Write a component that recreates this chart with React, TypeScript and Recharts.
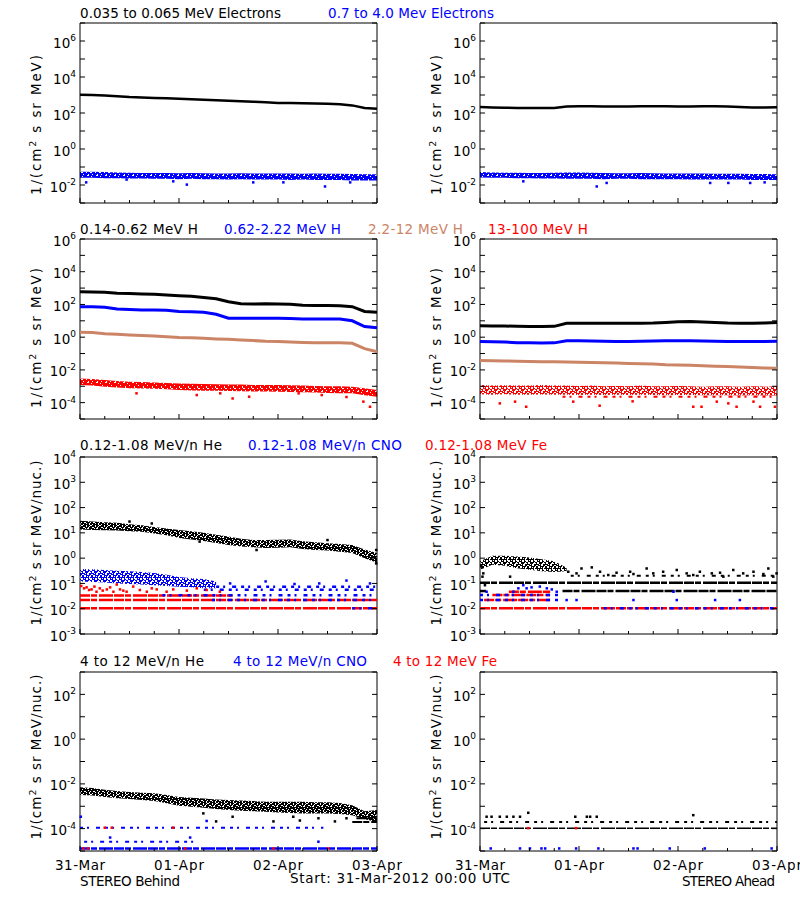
import React from 'react';
import { ComposedChart, Line, Area, Scatter, XAxis, YAxis, ReferenceArea } from 'recharts';

const FONT = '"DejaVu Sans", "Liberation Sans", sans-serif';
const BLACK = '#000000';
const BLUE = '#0000ff';
const SIENNA = '#cc8466';
const RED = '#ff0000';

// hours since Start: 31-Mar-2012 00:00 UTC
const hours = [0, 3, 6, 9, 12, 15, 18, 21, 24, 27, 30, 33, 36, 39, 42, 45, 48, 51, 54, 57, 60, 63, 66, 69, 72];
const xTicks = [0, 6, 12, 18, 24, 30, 36, 42, 48, 54, 60, 66, 72];
const dayTicks = [0, 24, 48, 72];
const dayLabels = ['31-Mar', '01-Apr', '02-Apr', '03-Apr'];

const yTicksE = [1e-3, 1e-2, 1e-1, 1, 1e1, 1e2, 1e3, 1e4, 1e5, 1e6, 1e7];
const yLabelsE = [-2, 0, 2, 4, 6];
const yTicksH = [1e-5, 1e-4, 1e-3, 1e-2, 1e-1, 1, 1e1, 1e2, 1e3, 1e4, 1e5, 1e6];
const yLabelsH = [-4, -2, 0, 2, 4, 6];
const yTicksLo = [1e-3, 1e-2, 1e-1, 1, 1e1, 1e2, 1e3, 1e4];
const yLabelsLo = [-3, -2, -1, 0, 1, 2, 3, 4];
const yTicksHi = [1e-5, 1e-4, 1e-3, 1e-2, 1e-1, 1, 1e1, 1e2, 1e3];
const yLabelsHi = [-4, -2, 0, 2];

// ---- row 1: electrons ----
const eLowB = [1040, 990, 930, 860, 770, 720, 676, 650, 617, 580, 550, 510, 480, 450, 426, 390, 360, 355, 350, 340, 330, 310, 265, 190, 174];
const eHighBLo = [0.025, 0.025, 0.024, 0.024, 0.023, 0.023, 0.022, 0.022, 0.021, 0.022, 0.021, 0.021, 0.02, 0.021, 0.02, 0.02, 0.02, 0.019, 0.02, 0.019, 0.019, 0.019, 0.018, 0.018, 0.018];
const eHighBHi = [0.055, 0.054, 0.052, 0.05, 0.048, 0.047, 0.046, 0.046, 0.045, 0.046, 0.045, 0.044, 0.044, 0.045, 0.044, 0.043, 0.043, 0.043, 0.042, 0.043, 0.042, 0.042, 0.041, 0.04, 0.04];
const eHighBOut = [[1.5, 0.014], [11.3, 0.02], [22.6, 0.016], [25.9, 0.0105], [42, 0.014], [49.3, 0.014], [59.4, 0.0083], [65.5, 0.014]];

const eLowA = [215, 205, 195, 190, 188, 188, 190, 232, 235, 235, 232, 232, 232, 235, 235, 235, 232, 232, 235, 235, 232, 215, 205, 205, 208];
const eHighALo = [0.026, 0.025, 0.025, 0.024, 0.024, 0.023, 0.023, 0.022, 0.022, 0.022, 0.021, 0.022, 0.022, 0.021, 0.021, 0.021, 0.021, 0.02, 0.02, 0.02, 0.02, 0.02, 0.019, 0.019, 0.019];
const eHighAHi = [0.052, 0.05, 0.048, 0.048, 0.047, 0.047, 0.048, 0.05, 0.05, 0.048, 0.046, 0.045, 0.045, 0.046, 0.045, 0.044, 0.044, 0.043, 0.043, 0.042, 0.042, 0.042, 0.041, 0.041, 0.04];
const eHighAOut = [[10.5, 0.016], [28.3, 0.0083], [30.7, 0.013], [55.8, 0.013], [60.2, 0.013], [65.5, 0.013], [69, 0.014]];

// ---- row 2: protons ----
const pLowB = [600, 580, 560, 480, 460, 440, 420, 380, 345, 315, 265, 220, 145, 112, 107, 112, 107, 103, 90, 85, 85, 82, 73, 37, 33];
const pMidB = [73, 72, 68, 52, 50, 46, 46, 44, 37, 36, 33, 25, 14.5, 14.3, 14.3, 14.3, 14.3, 14, 13, 12.9, 12.9, 12.8, 10, 4.5, 3.8];
const pHighB = [2.0, 1.9, 1.6, 1.5, 1.35, 1.25, 1.2, 1.05, 0.95, 0.92, 0.85, 0.78, 0.74, 0.68, 0.62, 0.56, 0.54, 0.5, 0.48, 0.46, 0.46, 0.45, 0.42, 0.2, 0.13];
const pTopBHi = [3.0e-3, 2.8e-3, 2.4e-3, 2.1e-3, 1.9e-3, 1.8e-3, 1.7e-3, 1.6e-3, 1.5e-3, 1.45e-3, 1.4e-3, 1.35e-3, 1.3e-3, 1.3e-3, 1.2e-3, 1.2e-3, 1.2e-3, 1.15e-3, 1.1e-3, 1.05e-3, 1.0e-3, 1.0e-3, 9.5e-4, 7.5e-4, 6e-4];
const pTopBLo = [1.2e-3, 1.1e-3, 9.5e-4, 8.5e-4, 7.5e-4, 7.2e-4, 7e-4, 6.5e-4, 6e-4, 5.6e-4, 5.4e-4, 5.3e-4, 5.2e-4, 5e-4, 4.8e-4, 4.8e-4, 4.7e-4, 4.5e-4, 4.3e-4, 4.1e-4, 3.9e-4, 3.8e-4, 3.7e-4, 2.8e-4, 2.3e-4];
const pTopBOut = [[13.7, 3.7e-4], [28.3, 2.9e-4], [34, 3.7e-4], [37, 1.8e-4], [41, 2.3e-4], [53, 3.7e-4], [58.6, 2.9e-4], [64.6, 2.2e-4], [68.7, 1.15e-4], [70.3, 5.6e-5]];

const pLowA = [5.0, 4.9, 4.8, 4.6, 4.5, 4.5, 4.6, 7.0, 7.2, 7.2, 7.0, 7.0, 7.0, 7.1, 7.3, 8.0, 8.8, 9.0, 8.5, 8.0, 7.4, 7.2, 7.0, 7.3, 7.8];
const pMidA = [0.55, 0.52, 0.5, 0.46, 0.45, 0.44, 0.45, 0.6, 0.6, 0.58, 0.56, 0.55, 0.55, 0.56, 0.58, 0.6, 0.6, 0.6, 0.58, 0.56, 0.55, 0.55, 0.54, 0.55, 0.56];
const pHighA = [0.037, 0.036, 0.035, 0.034, 0.033, 0.032, 0.031, 0.03, 0.029, 0.028, 0.027, 0.026, 0.025, 0.024, 0.023, 0.021, 0.02, 0.019, 0.018, 0.017, 0.016, 0.015, 0.014, 0.013, 0.0125];
const pTopAHi = [1.2e-3, 1.1e-3, 1.15e-3, 1.1e-3, 1.1e-3, 1.2e-3, 1.1e-3, 1.1e-3, 1.05e-3, 1.1e-3, 1.0e-3, 1.05e-3, 1.0e-3, 1.1e-3, 1.0e-3, 1.0e-3, 1.05e-3, 1.0e-3, 9.5e-4, 1.0e-3, 1.0e-3, 9.5e-4, 1.0e-3, 9.5e-4, 1.0e-3];
const pTopALo = [3.2e-4, 3.0e-4, 3.2e-4, 3.0e-4, 3.0e-4, 3.1e-4, 3.0e-4, 3.0e-4, 2.9e-4, 3.0e-4, 2.9e-4, 3.0e-4, 2.9e-4, 3.0e-4, 2.9e-4, 2.8e-4, 2.9e-4, 2.9e-4, 2.8e-4, 2.8e-4, 2.8e-4, 2.7e-4, 2.8e-4, 2.7e-4, 2.7e-4];
const pTopALevels = [[20, 72, 2.3e-4]];
const pTopAOut = [[4.8, 9e-5], [8.5, 1.15e-4], [11.2, 5.6e-5], [22.6, 1.15e-4], [29, 6.5e-5], [37, 1.2e-4], [51.7, 5.6e-5], [53.7, 5.6e-5], [57.4, 1.15e-4], [60.2, 9e-5], [62.2, 5.6e-5], [66.3, 1.15e-4], [67.9, 5.6e-5], [71.5, 5.6e-5]];

// ---- row 3: 0.12-1.08 MeV/n heavy ions ----
const heLoBHi = [30, 28, 26, 25, 22, 20, 17, 15, 13, 11.5, 10, 8.5, 7.2, 5.8, 5.2, 5.2, 5.3, 5.4, 4.7, 4.3, 3.9, 3.6, 3.3, 2.2, 1.6];
const heLoBLo = [13.5, 13, 12.8, 12.5, 11.5, 11, 9.5, 8, 6.2, 5.5, 4.8, 4.0, 3.3, 2.9, 2.7, 2.5, 2.6, 2.7, 2.3, 2.1, 2.0, 1.8, 1.6, 1.0, 0.65];
const heLoBOut = [[12, 28], [17.4, 23.5], [29, 4.5], [42.8, 2.1], [60, 5.2], [71.8, 2.1], [71.8, 0.62]];
const cnoLoBHi = [0.37, 0.36, 0.34, 0.32, 0.3, 0.28, 0.26, 0.22, 0.18, 0.16, 0.15, 0.12, null, null, null, null, null, null, null, null, null, null, null, null, null];
const cnoLoBLo = [0.12, 0.115, 0.11, 0.1, 0.095, 0.09, 0.085, 0.08, 0.074, 0.07, 0.065, 0.065, null, null, null, null, null, null, null, null, null, null, null, null, null];
const cnoLoBOut = [[36.4, 0.1], [45, 0.12], [52, 0.095], [58, 0.1], [64.6, 0.13], [70.3, 0.1]];
const cnoLoBLevels = [[33, 72, 0.074], [30, 72, 0.056], [20, 72, 0.034], [32, 72, 0.022], [66, 72, 0.0104]];
const feLoBLevels = [[0, 72, 0.0104], [0, 72, 0.022], [0, 37, 0.033]];
const feLoBPts = [[0.3, 0.079], [1, 0.064], [1.6, 0.07], [2.2, 0.055], [2.8, 0.058], [3.5, 0.075], [4, 0.047], [4.8, 0.064], [5.5, 0.052], [6.5, 0.058], [7.3, 0.07], [8.1, 0.047], [8.9, 0.09], [9.7, 0.058], [10.5, 0.052], [11.3, 0.047], [12.9, 0.075], [14.5, 0.055], [16.2, 0.047], [17.4, 0.064], [18.6, 0.058], [21, 0.047], [22.6, 0.058], [25.9, 0.052], [28.3, 0.064], [30.7, 0.055], [33.9, 0.047]];

const heLoAHi = [0.75, 1.25, 1.25, 1.15, 1.05, 0.9, 0.75, 0.42, null, null, null, null, null, null, null, null, null, null, null, null, null, null, null, null, null];
const heLoALo = [0.35, 0.55, 0.5, 0.4, 0.35, 0.3, 0.28, 0.3, null, null, null, null, null, null, null, null, null, null, null, null, null, null, null, null, null];
const heLoAPts = [[0.4, 0.46], [0.6, 0.185], [0.8, 0.25], [1.2, 0.085], [7.3, 0.185], [21.4, 0.29], [23.4, 0.25], [24.6, 0.39], [27.1, 0.43], [29.1, 0.29], [31.1, 0.215], [33.1, 0.265], [36.4, 0.29], [37.2, 0.235], [40.4, 0.39], [42, 0.25], [44.4, 0.29], [47.7, 0.34], [50.1, 0.25], [51.7, 0.215], [53.3, 0.29], [56.2, 0.25], [58.2, 0.265], [59, 0.185], [61.4, 0.34], [63.8, 0.25], [66.3, 0.29], [68.7, 0.235], [69.9, 0.39], [71.1, 0.185], [71.9, 0.25]];
const heLoALevels = [[0, 72, 0.107], [20, 72, 0.05], [0, 1.5, 0.05]];
const heLoALevelsSparse = [[22, 72, 0.2]];
const cnoLoAPts = [[1.6, 0.047], [8.1, 0.047], [9.3, 0.064], [10.5, 0.085], [11.3, 0.064], [12.5, 0.07], [14.5, 0.075], [16.2, 0.064], [17.4, 0.058], [18.6, 0.047], [21, 0.022], [23.4, 0.022], [37.2, 0.022], [46.9, 0.047], [47.7, 0.022], [57, 0.022], [63, 0.022]];
const cnoLoALevels = [[0, 19, 0.035], [0, 19, 0.022], [30, 72, 0.0104]];
const feLoALevels = [[0, 72, 0.0104], [1, 17, 0.022], [3, 17, 0.035], [7, 17, 0.047]];

// ---- row 4: 4-12 MeV/n heavy ions ----
const heHiBHi = [7e-3, 6.5e-3, 5.5e-3, 4.8e-3, 4.3e-3, 4e-3, 3.8e-3, 3.2e-3, 2.6e-3, 2.4e-3, 2.2e-3, 2.0e-3, 1.9e-3, 1.8e-3, 1.7e-3, 1.6e-3, 1.6e-3, 1.6e-3, 1.6e-3, 1.5e-3, 1.5e-3, 1.4e-3, 1.1e-3, 6e-4, 6.8e-4];
const heHiBLo = [3.2e-3, 3e-3, 2.6e-3, 2.3e-3, 2.1e-3, 1.9e-3, 1.7e-3, 1.35e-3, 1.05e-3, 9.5e-4, 8.5e-4, 7.5e-4, 6.8e-4, 6.3e-4, 6e-4, 5.7e-4, 5.3e-4, 5e-4, 4.8e-4, 4.8e-4, 4.8e-4, 4.5e-4, 4e-4, 2.6e-4, 2e-4];
const heHiBOut = [[29.9, 4.8e-4], [33, 2.1e-4], [37, 3.4e-4], [46.9, 2.1e-4], [51.7, 3.4e-4], [53.3, 2.3e-4], [57.8, 2.9e-4], [61.8, 2.1e-4], [64.6, 2.9e-4]];
const heHiBLevels = [[67, 72, 2.9e-4], [66, 72, 2.0e-4]];
const cnoHiBLevels = [[0, 72, 1.3e-5]];
const cnoHiBLevelsSparse = [[0, 59, 1.1e-4], [1, 29, 2.6e-5]];
const cnoHiBPts = [[0.2, 3.4e-4], [7.3, 4e-5], [26.7, 4e-5], [30.7, 2.2e-4], [57.8, 2.6e-5]];
const feHiBPts = [[6, 1.1e-4], [7.7, 1.1e-4], [22.6, 1.1e-4], [0.8, 1.3e-5], [2, 1.3e-5], [25.5, 1.3e-5], [46.9, 1.3e-5], [60.2, 1.3e-5]];

const heHiALevels = [[0, 72, 1.05e-4]];
const heHiALevelsSparse = [[1, 72, 2.0e-4]];
const heHiAPts = [[1.6, 3.4e-4], [2.8, 3.4e-4], [4.8, 3.4e-4], [6.5, 3.4e-4], [8.1, 3.4e-4], [9.7, 3.4e-4], [11.7, 5.1e-4], [23.1, 3.4e-4], [25.9, 3.4e-4], [26.7, 3.4e-4], [28.3, 3.4e-4], [51.7, 4e-4]];
const cnoHiAPts = [[2.6, 1.3e-5], [9.7, 1.3e-5], [12.1, 1.3e-5], [14.9, 1.3e-5], [15.8, 1.3e-5], [19.2, 1.3e-5], [23.3, 1.3e-5], [28.7, 1.3e-5], [37.2, 1.3e-5], [38.2, 1.3e-5], [46, 1.3e-5], [54.5, 1.3e-5], [70.7, 1.3e-5]];
const feHiAPts = [[11.7, 1.05e-4], [23.3, 1.05e-4]];

const ROW_E = { top: 23, bottom: 203, domain: [1e-3, 1e7], ticks: yTicksE, labels: yLabelsE };
const ROW_H = { top: 239, bottom: 419, domain: [1e-5, 1e6], ticks: yTicksH, labels: yLabelsH };
const ROW_LO = { top: 457, bottom: 634, domain: [1e-3, 1e4], ticks: yTicksLo, labels: yLabelsLo };
const ROW_HI = { top: 672, bottom: 851, domain: [1e-5, 1e3], ticks: yTicksHi, labels: yLabelsHi };

const DENSE = '10 1 6 2 14 1';
const SPARSE = '3 4 2 7 4 5';

// white gaps punched into a solid 9x9 tile, to give a speckled fill
const HOLES: Record<string, number[][]> = {
  dense: [[1, 1, 1, 1], [6, 0, 2, 1], [3, 3, 1, 1], [8, 4, 1, 2], [0, 6, 2, 1], [5, 6, 1, 1], [2, 8, 1, 1], [7, 8, 1, 1]],
  medium: [[1, 1, 1, 1], [6, 0, 2, 1], [3, 3, 2, 1], [8, 4, 1, 2], [0, 6, 2, 1], [5, 6, 1, 2], [2, 8, 2, 1], [7, 8, 1, 1],
    [4, 0, 1, 1], [7, 2, 1, 1], [0, 3, 1, 1], [5, 4, 1, 1], [2, 5, 1, 1], [8, 7, 1, 1]],
  sparse: [[1, 1, 2, 1], [6, 0, 2, 2], [3, 2, 2, 2], [8, 3, 1, 3], [0, 5, 2, 2], [5, 5, 2, 2], [2, 7, 2, 2], [7, 8, 2, 1],
    [4, 0, 1, 1], [0, 2, 1, 2], [6, 3, 1, 1], [3, 5, 1, 1], [8, 7, 1, 1], [0, 8, 1, 1]],
};
const TONES: Record<string, string> = { black: BLACK, blue: BLUE, red: RED };

const Dot = (p: any) => <rect x={p.cx - 1.25} y={p.cy - 1.25} width={2.5} height={2.5} fill={p.fill} />;
const Nothing = () => <g />;

const YTick = (props: any) => {
  const { x, y, payload, side, labels } = props;
  const exp = Math.round(Math.log10(payload.value));
  if (side === 'right') return <line x1={x - 5} x2={x} y1={y} y2={y} stroke={BLACK} />;
  return (
    <g>
      <line x1={x} x2={x + 5} y1={y} y2={y} stroke={BLACK} />
      {labels.includes(exp) && (
        <text x={x - 4} y={y + 6.5} textAnchor="end" fontFamily={FONT} fontSize={13.5} fill={BLACK}>
          10<tspan dy={-6.5} fontSize={9}>{String(exp)}</tspan>
        </text>
      )}
    </g>
  );
};

const XTick = (props: any) => {
  const { x, y, payload, dates } = props;
  const i = dayTicks.indexOf(payload.value);
  return (
    <g>
      <line x1={x} x2={x} y1={y} y2={y - (i >= 0 ? 5 : 3)} stroke={BLACK} />
      {dates && i >= 0 && (
        <text x={x} y={y + 19} textAnchor="middle" fontFamily={FONT} fontSize={13.5} fill={BLACK} textLength={50} lengthAdjust="spacing">
          {dayLabels[i]}
        </text>
      )}
    </g>
  );
};

function Panel({ left, row, cols, lines = [], bands = [], levels = [], dots = [], dates = false }: any) {
  const data = hours.map((h, i) => {
    const r: any = { h };
    for (const k of Object.keys(cols)) r[k] = cols[k][i];
    return r;
  });
  const ph = row.bottom - row.top;
  return (
    <div style={{ position: 'absolute', left, top: row.top - 10 }}>
      <ComposedChart width={430} height={ph + 40} data={data} margin={{ top: 10, right: 30, bottom: 0, left: 0 }}>
        <XAxis dataKey="h" type="number" domain={[0, 72]} ticks={xTicks} interval={0} height={30}
          axisLine={false} tickLine={false} tickSize={0} tickMargin={0} tick={<XTick dates={dates} />} />
        <YAxis yAxisId="l" type="number" scale="log" domain={row.domain} allowDataOverflow ticks={row.ticks} interval={0} width={80}
          axisLine={false} tickLine={false} tickSize={0} tickMargin={0} tick={<YTick side="left" labels={row.labels} />} />
        <YAxis yAxisId="r" orientation="right" type="number" scale="log" domain={row.domain} allowDataOverflow ticks={row.ticks} interval={0} width={23}
          axisLine={false} tickLine={false} tickSize={0} tickMargin={0} tick={<YTick side="right" />} />
        {bands.map((b: any, i: number) => (
          <Area key={'b' + i} yAxisId="l" type="linear"
            dataKey={(d: any) => (d[b.lo] == null ? null : [d[b.lo], d[b.hi]])}
            stroke="none" fill={`url(#sp-${b.tone}-${b.density})`} fillOpacity={1}
            dot={false} activeDot={false} isAnimationActive={false} />
        ))}
        {lines.map((l: any, i: number) => (
          <Line key={'l' + i} yAxisId="l" type="linear" dataKey={l.key} stroke={l.color} strokeWidth={l.w}
            dot={false} activeDot={false} isAnimationActive={false} />
        ))}
        {levels.map((lv: any, i: number) => lv.data.map((seg: number[], j: number) => (
          <Scatter key={`v${i}-${j}`} yAxisId="l" dataKey="v"
            data={[{ h: seg[0], v: seg[2] }, { h: seg[1], v: seg[2] }]}
            fill={lv.color}
            line={{ stroke: lv.color, strokeWidth: lv.w, strokeDasharray: lv.dash }}
            shape={Nothing} isAnimationActive={false} />
        )))}
        {dots.map((s: any, i: number) => (
          <Scatter key={'d' + i} yAxisId="l" dataKey="v" data={s.data.map((p: number[]) => ({ h: p[0], v: p[1] }))}
            fill={s.color} shape={Dot} isAnimationActive={false} />
        ))}
        <ReferenceArea yAxisId="l" x1={0} x2={72} y1={row.domain[0]} y2={row.domain[1]}
          fill="none" stroke={BLACK} strokeWidth={1} ifOverflow="visible" />
      </ComposedChart>
    </div>
  );
}

const Title = ({ x, y, w, color = BLACK, anchor = 'start', children }: any) => (
  <text x={x} y={y} fill={color} fontFamily={FONT} fontSize={13.5} textAnchor={anchor} textLength={w} lengthAdjust="spacing">
    {children}
  </text>
);

const YLabel = ({ x, cy, w, unit }: any) => (
  <text transform={`rotate(-90 ${x} ${cy})`} x={x} y={cy} textAnchor="middle" fontFamily={FONT} fontSize={13.5} fill={BLACK}
    textLength={w} lengthAdjust="spacing">
    1/(cm<tspan dy={-5} fontSize={9.5}>2</tspan><tspan dy={5}>{` s sr ${unit})`}</tspan>
  </text>
);

export default function App() {
  return (
    <div style={{ position: 'absolute', left: 0, top: 0, width: 800, height: 900, background: '#fff', overflow: 'hidden' }}>
      <svg width={0} height={0} style={{ position: 'absolute' }}>
        <defs>
          {Object.keys(TONES).map((tn) => Object.keys(HOLES).map((dn) => (
            <pattern key={tn + dn} id={`sp-${tn}-${dn}`} width={9} height={9} patternUnits="userSpaceOnUse">
              <rect x={0} y={0} width={9} height={9} fill={TONES[tn]} />
              {HOLES[dn].map((c, i) => <rect key={i} x={c[0]} y={c[1]} width={c[2]} height={c[3]} fill="#ffffff" />)}
            </pattern>
          )))}
        </defs>
      </svg>

      {/* row 1: electrons */}
      <Panel left={0} row={ROW_E} cols={{ lo: eLowB, bLo: eHighBLo, bHi: eHighBHi }}
        lines={[{ key: 'lo', color: BLACK, w: 2.5 }]}
        bands={[{ lo: 'bLo', hi: 'bHi', tone: 'blue', density: 'dense' }]}
        dots={[{ data: eHighBOut, color: BLUE }]} />
      <Panel left={400} row={ROW_E} cols={{ lo: eLowA, bLo: eHighALo, bHi: eHighAHi }}
        lines={[{ key: 'lo', color: BLACK, w: 2.5 }]}
        bands={[{ lo: 'bLo', hi: 'bHi', tone: 'blue', density: 'dense' }]}
        dots={[{ data: eHighAOut, color: BLUE }]} />

      {/* row 2: protons */}
      <Panel left={0} row={ROW_H} cols={{ a: pLowB, b: pMidB, c: pHighB, rLo: pTopBLo, rHi: pTopBHi }}
        lines={[{ key: 'a', color: BLACK, w: 3 }, { key: 'b', color: BLUE, w: 3 }, { key: 'c', color: SIENNA, w: 3 }]}
        bands={[{ lo: 'rLo', hi: 'rHi', tone: 'red', density: 'dense' }]}
        dots={[{ data: pTopBOut, color: RED }]} />
      <Panel left={400} row={ROW_H} cols={{ a: pLowA, b: pMidA, c: pHighA, rLo: pTopALo, rHi: pTopAHi }}
        lines={[{ key: 'a', color: BLACK, w: 3 }, { key: 'b', color: BLUE, w: 3 }, { key: 'c', color: SIENNA, w: 3 }]}
        bands={[{ lo: 'rLo', hi: 'rHi', tone: 'red', density: 'sparse' }]}
        levels={[{ data: pTopALevels, color: RED, w: 2, dash: SPARSE }]}
        dots={[{ data: pTopAOut, color: RED }]} />

      {/* row 3: 0.12-1.08 MeV/n */}
      <Panel left={0} row={ROW_LO} cols={{ hLo: heLoBLo, hHi: heLoBHi, cLo: cnoLoBLo, cHi: cnoLoBHi }}
        bands={[{ lo: 'hLo', hi: 'hHi', tone: 'black', density: 'medium' }, { lo: 'cLo', hi: 'cHi', tone: 'blue', density: 'sparse' }]}
        levels={[
          { data: feLoBLevels, color: RED, w: 2.5, dash: DENSE },
          { data: cnoLoBLevels, color: BLUE, w: 2.5, dash: SPARSE },
        ]}
        dots={[{ data: heLoBOut, color: BLACK }, { data: cnoLoBOut, color: BLUE }, { data: feLoBPts, color: RED }]} />
      <Panel left={400} row={ROW_LO} cols={{ hLo: heLoALo, hHi: heLoAHi }}
        bands={[{ lo: 'hLo', hi: 'hHi', tone: 'black', density: 'sparse' }]}
        levels={[
          { data: heLoALevels, color: BLACK, w: 2.5, dash: DENSE },
          { data: heLoALevelsSparse, color: BLACK, w: 2, dash: SPARSE },
          { data: feLoALevels, color: RED, w: 2.5, dash: DENSE },
          { data: cnoLoALevels, color: BLUE, w: 2.5, dash: SPARSE },
        ]}
        dots={[{ data: heLoAPts, color: BLACK }, { data: cnoLoAPts, color: BLUE }]} />

      {/* row 4: 4-12 MeV/n */}
      <Panel left={0} row={ROW_HI} dates cols={{ hLo: heHiBLo, hHi: heHiBHi }}
        bands={[{ lo: 'hLo', hi: 'hHi', tone: 'black', density: 'medium' }]}
        levels={[
          { data: heHiBLevels, color: BLACK, w: 2, dash: DENSE },
          { data: cnoHiBLevels, color: BLUE, w: 2.5, dash: DENSE },
          { data: cnoHiBLevelsSparse, color: BLUE, w: 2, dash: SPARSE },
        ]}
        dots={[{ data: heHiBOut, color: BLACK }, { data: cnoHiBPts, color: BLUE }, { data: feHiBPts, color: RED }]} />
      <Panel left={400} row={ROW_HI} dates cols={{}}
        levels={[
          { data: heHiALevels, color: BLACK, w: 1.5, dash: DENSE },
          { data: heHiALevelsSparse, color: BLACK, w: 2, dash: SPARSE },
        ]}
        dots={[{ data: heHiAPts, color: BLACK }, { data: cnoHiAPts, color: BLUE }, { data: feHiAPts, color: RED }]} />

      <svg width={800} height={900} style={{ position: 'absolute', left: 0, top: 0, pointerEvents: 'none' }}>
        <Title x={80} y={18} w={201}>0.035 to 0.065 MeV Electrons</Title>
        <Title x={328} y={18} w={166} color={BLUE}>0.7 to 4.0 Mev Electrons</Title>

        <Title x={80} y={234} w={118}>0.14-0.62 MeV H</Title>
        <Title x={224} y={234} w={117} color={BLUE}>0.62-2.22 MeV H</Title>
        <Title x={368} y={234} w={95} color={SIENNA}>2.2-12 MeV H</Title>
        <Title x={488} y={234} w={100} color={RED}>13-100 MeV H</Title>

        <Title x={80} y={449.5} w={142}>0.12-1.08 MeV/n He</Title>
        <Title x={248} y={449.5} w={154} color={BLUE}>0.12-1.08 MeV/n CNO</Title>
        <Title x={425} y={449.5} w={122} color={RED}>0.12-1.08 MeV Fe</Title>

        <Title x={80} y={665.5} w={124}>4 to 12 MeV/n He</Title>
        <Title x={233} y={665.5} w={134} color={BLUE}>4 to 12 MeV/n CNO</Title>
        <Title x={393} y={665.5} w={104} color={RED}>4 to 12 MeV Fe</Title>

        <Title x={80} y={885.5} w={100}>STEREO Behind</Title>
        <Title x={290} y={882.5} w={220}>Start: 31-Mar-2012 00:00 UTC</Title>
        <Title x={775} y={885.5} w={93} anchor="end">STEREO Ahead</Title>

        <YLabel x={41} cy={125} w={140} unit="MeV" />
        <YLabel x={441} cy={125} w={140} unit="MeV" />
        <YLabel x={41} cy={338} w={140} unit="MeV" />
        <YLabel x={441} cy={338} w={140} unit="MeV" />
        <YLabel x={41} cy={543} w={165} unit="MeV/nuc." />
        <YLabel x={441} cy={543} w={165} unit="MeV/nuc." />
        <YLabel x={41} cy={757} w={165} unit="MeV/nuc." />
        <YLabel x={441} cy={757} w={165} unit="MeV/nuc." />
      </svg>
    </div>
  );
}
